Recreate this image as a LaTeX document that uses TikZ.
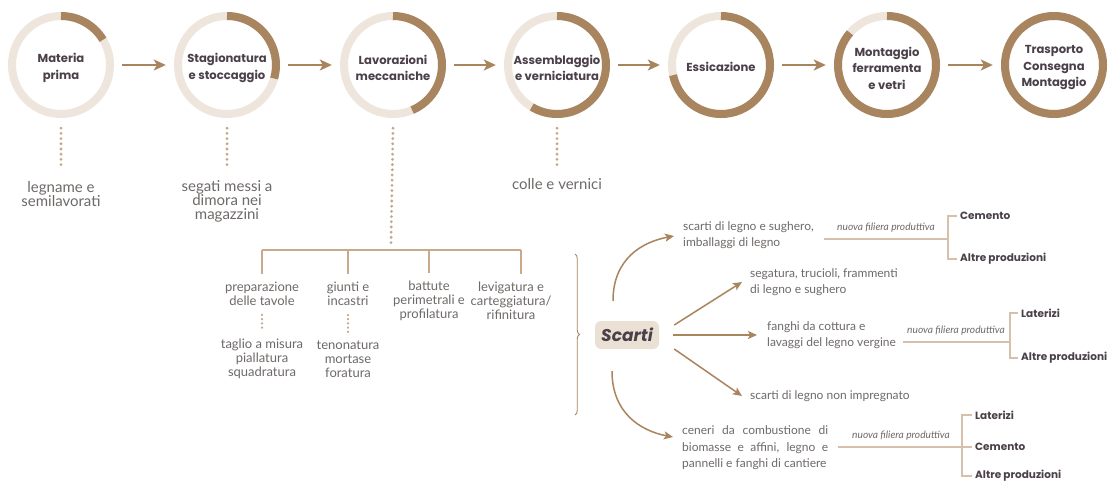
\documentclass[tikz,border=0pt]{standalone}
\usepackage{fontspec}
\setmainfont{Lato}
\newfontfamily\pop{Poppins}
\usetikzlibrary{arrows.meta,decorations.pathreplacing}
\definecolor{brn}{HTML}{A9855F}
\definecolor{lite}{HTML}{EEE6DD}
\definecolor{dotc}{HTML}{C4A68A}
\definecolor{treec}{HTML}{C9A98B}
\definecolor{filc}{HTML}{D6C0AB}
\definecolor{txt}{HTML}{6E6A68}
\definecolor{dark}{HTML}{4B4049}
\definecolor{boxc}{HTML}{EBE0D4}
\begin{document}
\begin{tikzpicture}[x=1pt,y=-1pt,
  ringnode/.style={circle, minimum size=106pt, inner sep=0pt},
  stage/.style={inner sep=0pt, align=center, text=dark, font=\pop\bfseries\fontsize{11.6}{16.5}\selectfont},
  flow/.style={draw=brn, line width=2pt, -{Stealth[length=12pt,width=11pt,inset=3pt]}, shorten <=8pt, shorten >=8pt},
  sarr/.style={draw=brn, line width=1.5pt, -{Stealth[length=9pt,width=8pt,inset=2pt]}},
  dots/.style={draw=dotc, line width=3.1pt, line cap=round, dash pattern=on 0pt off 5.2pt},
  sdots/.style={draw=dotc, line width=2.5pt, line cap=round, dash pattern=on 0pt off 4.2pt},
  note/.style={inner sep=0pt, align=center, text=txt, font=\fontsize{15}{14}\selectfont},
  tnote/.style={inner sep=0pt, align=center, text=txt, font=\fontsize{13}{14}\selectfont},
  rnote/.style={inner sep=0pt, anchor=west, align=left, text=txt, font=\fontsize{12}{16.5}\selectfont},
  tl/.style={draw=treec, line width=1.6pt},
  fl/.style={draw=filc, line width=1.3pt},
  fil/.style={inner sep=0pt, text=txt, font=\itshape\fontsize{10.2}{10}\selectfont},
  prod/.style={inner sep=0pt, anchor=west, text=dark, font=\pop\bfseries\fontsize{10.5}{10}\selectfont},
  scbox/.style={fill=boxc, rounded corners=6pt, minimum width=64pt, minimum height=28pt, inner sep=0pt, text=dark, font=\pop\bfseries\itshape\fontsize{17}{17}\selectfont}
]
\useasboundingbox (0,0) rectangle (1109,484);
\fill[white] (0,0) rectangle (1109,484);

% stage rings
\foreach \cx/\e/\i in {61/31/1, 227/-16/2, 393/-67/3, 557/-121/4, 721/-168/5, 887/-221/6, 1054/-270/7} {
  \node[ringnode] (c\i) at (\cx,65) {};
  \draw[lite, line width=8pt] (c\i.center) circle[radius=49pt];
  \draw[brn, line width=8pt] ([shift={(90:49pt)}]c\i.center) arc[start angle=90, end angle=\e, radius=49pt];
}
\node[stage] (l1) at (61,68) {Materia\\prima};
\node[stage] (l2) at (227,68) {Stagionatura\\e stoccaggio};
\node[stage] (l3) at (393,68) {Lavorazioni\\meccaniche};
\node[stage] (l4) at (557,68) {Assemblaggio\\e verniciatura};
\node[stage] (l5) at (721,67) {Essicazione};
\node[stage] (l6) at (887,68) {Montaggio\\ferramenta\\e vetri};
\node[stage] (l7) at (1054,68) {Trasporto\\Consegna\\Montaggio};
\foreach \a/\b in {1/2,2/3,3/4,4/5,5/6,6/7} \draw[flow] (c\a) -- (c\b);

% notes under stages
\node[note] (n1) at (61,194) {legname e\\semilavorati};
\node[note] (n2) at (227,201) {segati messi a\\dimora nei\\magazzini};
\node[note] (n4) at (557,184) {colle e vernici};
\draw[dots] ([yshift=-10pt]c1.south) -- ([yshift=14pt]n1.north);
\draw[dots] ([yshift=-10pt]c2.south) -- ([yshift=14pt]n2.north);
\draw[dots] ([yshift=-10pt]c4.south) -- ([yshift=10pt]n4.north);

% tree of mechanical works
\coordinate (tr) at (391,250);
\coordinate (k1) at (262,250);
\coordinate (k2) at (348,250);
\coordinate (k3) at (429,250);
\coordinate (k4) at (521,250);
\draw[dots] ([yshift=-10pt]c3.south) -- ([yshift=7pt]tr);
\node[tnote] (p1) at (262,294) {preparazione\\delle tavole};
\node[tnote] (p2) at (348,294) {giunti e\\incastri};
\node[tnote] (p3) at (429,301) {battute\\perimetrali e\\profilatura};
\node[tnote] (p4) at (511,301) {levigatura e\\carteggiatura/\\rifinitura};
\draw[tl] (k1) -- (k4);
\draw[tl] (k1) -- ([yshift=8pt]p1.north);
\draw[tl] (k2) -- ([yshift=8pt]p2.north);
\draw[tl] (k3) -- ([yshift=8pt]p3.north);
\draw[tl] (k4) -- ([yshift=8pt]k4 |- p4.north);
\node[tnote] (q1) at (262,359) {taglio a misura\\piallatura\\squadratura};
\node[tnote] (q2) at (348,359) {tenonatura\\mortase\\foratura};
\draw[sdots] ([yshift=-9pt]p1.south) -- ([yshift=8pt]q1.north);
\draw[sdots] ([yshift=-9pt]p2.south) -- ([yshift=8pt]q2.north);

% brace and Scarti
\coordinate (bt) at (575,254);
\coordinate (bb) at (575,415);
\draw[brn, line width=0.9pt, decorate, decoration={brace, amplitude=4.5pt}] (bt) -- (bb);
\node[scbox] (sc) at (627,335) {Scarti};

\node[rnote] (tA) at (683,235) {scarti di legno e sughero,\\imballaggi di legno};
\node[rnote] (tB) at (750,282) {segatura, trucioli, frammenti\\di legno e sughero};
\node[rnote] (tC) at (767,335) {fanghi da cottura e\\lavaggi del legno vergine};
\node[rnote] (tD) at (750,396) {scarti di legno non impregnato};
\node[rnote, text width=146pt, align=justify] (tE) at (682,448) {ceneri da combustione di biomasse e affini, legno e pannelli e fanghi di cantiere};

\draw[sarr] ([xshift=-14pt,yshift=20pt]sc.north) .. controls +(0,-42) and +(-32,6) .. ([xshift=-9pt,yshift=-1pt]tA.west);
\draw[sarr] ([xshift=15pt,yshift=10pt]sc.east) -- ([xshift=-8pt]tB.west);
\draw[sarr] ([xshift=14pt]sc.east) -- ([xshift=-10pt]tC.west);
\draw[sarr] ([xshift=15pt,yshift=-14pt]sc.east) -- ([xshift=-8pt]tD.west);
\draw[sarr] ([xshift=-15pt,yshift=-22pt]sc.south) .. controls +(0,42) and +(-32,-6) .. ([xshift=-9pt,yshift=11pt]tE.west);

% new production chains
\coordinate (a1) at (824,239);
\coordinate (b1) at (948,239);
\node[fil] (f1) at (886,228) {nuova filiera produttiva};
\node[prod] (r1a) at (960,216) {Cemento};
\node[prod] (r1b) at (960,259) {Altre produzioni};
\draw[fl] (a1) -- (b1);
\draw[fl] ([xshift=-3pt]r1a.west) -| (b1) |- ([xshift=-3pt]r1b.west);

\coordinate (a3) at (903,342);
\coordinate (b3) at (1010,342);
\node[fil] (f3) at (956,331) {nuova filiera produttiva};
\node[prod] (r3a) at (1021,313) {Laterizi};
\node[prod] (r3b) at (1021,358) {Altre produzioni};
\draw[fl] (a3) -- (b3);
\draw[fl] ([xshift=-3pt]r3a.west) -| (b3) |- ([xshift=-3pt]r3b.west);

\coordinate (a5) at (838,447);
\coordinate (b5) at (962,447);
\node[fil] (f5) at (901,436) {nuova filiera produttiva};
\node[prod] (r5a) at (975,415) {Laterizi};
\node[prod] (r5b) at (975,447) {Cemento};
\node[prod] (r5c) at (975,476) {Altre produzioni};
\draw[fl] (a5) -- ([xshift=-3pt]r5b.west);
\draw[fl] ([xshift=-3pt]r5a.west) -| (b5) |- ([xshift=-3pt]r5c.west);
\end{tikzpicture}
\end{document}
